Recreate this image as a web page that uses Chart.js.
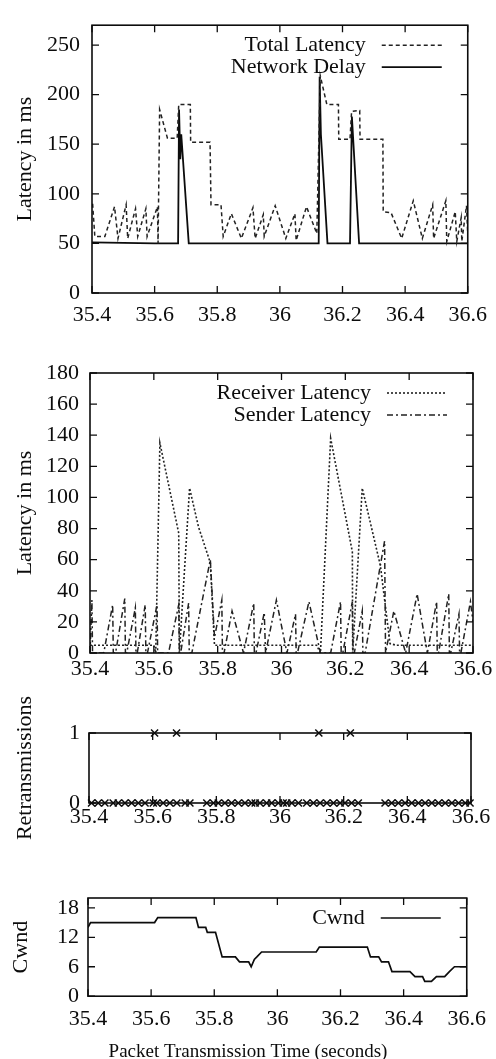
<!DOCTYPE html>
<html>
<head>
<meta charset="utf-8">
<script src="https://cdn.jsdelivr.net/npm/chart.js@4"></script>
<style>
html, body { margin: 0; padding: 0; background: #fff; overflow: hidden; }
body { width: 496px; height: 1059px; position: relative; }
canvas { position: absolute; left: 0; }
</style>
</head>
<body>
<canvas id="g1" width="496" height="330" style="top:0px"></canvas>
<canvas id="g2" width="496" height="360" style="top:330px"></canvas>
<canvas id="g3" width="496" height="170" style="top:690px"></canvas>
<canvas id="g4" width="496" height="203" style="top:860px"></canvas>
<script>
// eixo x comum
const ticksX = [35.4, 35.6, 35.8, 36, 36.2, 36.4, 36.6];

// grafico 1 - latencia total e atraso da rede
const totalX = [35.402, 35.409, 35.441, 35.472, 35.483, 35.509, 35.514, 35.539, 35.546, 35.572,
  35.576, 35.609, 35.611, 35.616, 35.641, 35.672, 35.677, 35.714, 35.715, 35.777,
  35.780, 35.812, 35.819, 35.845, 35.877, 35.914, 35.921, 35.947, 35.950, 35.985,
  36.019, 36.048, 36.052, 36.085, 36.118, 36.129, 36.150, 36.187, 36.188, 36.224,
  36.229, 36.255, 36.256, 36.329, 36.330, 36.355, 36.389, 36.426, 36.455, 36.488,
  36.491, 36.530, 36.533, 36.560, 36.565, 36.579, 36.581, 36.596, 36.600];
const totalY = [90, 57, 57, 87, 55, 89, 55, 85, 57, 85,
  57, 87, 50, 185, 156, 156, 190, 190, 152, 152,
  89, 89, 57, 80, 55, 86, 55, 79, 57, 88,
  55, 80, 53, 87, 60, 219, 190, 190, 155, 155,
  183, 184, 155, 155, 82, 81, 55, 93, 55, 89,
  55, 93, 52, 82, 52, 76, 52, 88, 60];
const redeX = [35.400, 35.600, 35.675, 35.678, 35.682, 35.685, 35.709, 36.124, 36.127, 36.131,
  36.152, 36.224, 36.230, 36.253, 36.600];
const redeY = [51, 50, 50, 185, 135, 160, 50, 50, 218, 160,
  50, 50, 178, 50, 50];
const ticksY1 = [0, 50, 100, 150, 200, 250];

// grafico 2 - latencia do receptor e do emissor
const recX = [35.400, 35.600, 35.606, 35.619, 35.678, 35.680, 35.712, 35.740, 35.777, 35.790,
  36.110, 36.122, 36.154, 36.222, 36.223, 36.253, 36.310, 36.340, 36.360, 36.600];
const recY = [5, 5, 0, 135, 77, 0, 106, 81, 58, 5,
  5, 0, 138, 65, 0, 106, 56, 6, 5, 5];
const emiX = [35.400, 35.406, 35.408, 35.443, 35.471, 35.473, 35.480, 35.509, 35.511, 35.515,
  35.542, 35.544, 35.548, 35.573, 35.575, 35.580, 35.610, 35.612, 35.646, 35.678,
  35.680, 35.684, 35.709, 35.711, 35.719, 35.777, 35.790, 35.813, 35.815, 35.820,
  35.845, 35.881, 35.913, 35.915, 35.920, 35.946, 35.950, 35.984, 36.017, 36.044,
  36.046, 36.050, 36.086, 36.122, 36.154, 36.185, 36.187, 36.192, 36.222, 36.224,
  36.228, 36.253, 36.255, 36.262, 36.323, 36.326, 36.352, 36.389, 36.425, 36.457,
  36.486, 36.488, 36.492, 36.524, 36.526, 36.530, 36.556, 36.558, 36.562, 36.592, 36.600];
const emiY = [0, 34, 0, 0, 31, 0, 0, 35, 0, 0,
  29, 0, 0, 31, 0, 0, 31, 0, 0, 31,
  0, 0, 32, 0, 0, 60, 10, 34, 0, 0,
  27, 0, 32, 0, 0, 26, 0, 34, 0, 25,
  0, 0, 33, 0, 0, 33, 0, 0, 33, 0,
  0, 27, 0, 0, 72, 0, 27, 0, 38, 0,
  33, 0, 0, 38, 0, 0, 25, 0, 0, 33, 20];
const ticksY2 = [0, 20, 40, 60, 80, 100, 120, 140, 160, 180];

// grafico 3 - retransmissoes
const retX = [35.408, 35.429, 35.450, 35.476, 35.492, 35.513, 35.534, 35.555, 35.576, 35.602,
  35.606, 35.613, 35.633, 35.654, 35.675, 35.676, 35.702, 35.717, 35.770, 35.791,
  35.806, 35.827, 35.848, 35.869, 35.890, 35.911, 35.922, 35.937, 35.958, 35.974,
  35.995, 36.010, 36.021, 36.037, 36.058, 36.084, 36.105, 36.122, 36.126, 36.147,
  36.168, 36.189, 36.204, 36.221, 36.225, 36.246, 36.330, 36.351, 36.372, 36.393,
  36.414, 36.435, 36.456, 36.477, 36.498, 36.519, 36.540, 36.561, 36.582, 36.597];
const retY = [0, 0, 0, 0, 0, 0, 0, 0, 0, 0,
  1, 0, 0, 0, 1, 0, 0, 0, 0, 0,
  0, 0, 0, 0, 0, 0, 0, 0, 0, 0,
  0, 0, 0, 0, 0, 0, 0, 1, 0, 0,
  0, 0, 0, 1, 0, 0, 0, 0, 0, 0,
  0, 0, 0, 0, 0, 0, 0, 0, 0, 0];
const ticksY3 = [0, 1];

// grafico 4 - janela de congestionamento
const cwndX = [35.400, 35.408, 35.611, 35.621, 35.742, 35.750, 35.773, 35.778, 35.804, 35.825,
  35.867, 35.880, 35.909, 35.917, 35.927, 35.935, 35.950, 36.123, 36.133, 36.285,
  36.295, 36.321, 36.330, 36.352, 36.363, 36.420, 36.436, 36.460, 36.467, 36.488,
  36.504, 36.530, 36.545, 36.561, 36.600];
const cwndY = [14, 15, 15, 16, 16, 14, 14, 13, 13, 8,
  8, 7, 7, 6, 7.5, 8, 9, 9, 10, 10,
  8, 8, 7, 7, 5, 5, 4, 4, 3, 3,
  4, 4, 5, 6, 6];
const ticksY4 = [0, 6, 12, 18];

const FONTE = "'Liberation Serif', 'Times New Roman', serif";
const TINTA = '#0c0c0c';

function pontos(xs, ys) {
  return xs.map((x, i) => ({ x: x, y: ys[i] }));
}

function fmtX(v) {
  return String(Math.round(v * 10) / 10);
}

// moldura e tiques para dentro (estilo gnuplot)
const moldura = {
  id: 'moldura',
  afterDatasetsDraw(chart) {
    const { ctx, chartArea: a } = chart;
    const sx = chart.scales.x, sy = chart.scales.y;
    ctx.save();
    ctx.strokeStyle = TINTA;
    ctx.lineWidth = 1.6;
    ctx.strokeRect(a.left, a.top, a.right - a.left, a.bottom - a.top);
    ctx.lineWidth = 1.3;
    ctx.beginPath();
    sx.ticks.forEach(t => {
      const p = sx.getPixelForValue(t.value);
      ctx.moveTo(p, a.bottom); ctx.lineTo(p, a.bottom - 7);
      ctx.moveTo(p, a.top); ctx.lineTo(p, a.top + 7);
    });
    sy.ticks.forEach(t => {
      const p = sy.getPixelForValue(t.value);
      ctx.moveTo(a.left, p); ctx.lineTo(a.left + 7, p);
      ctx.moveTo(a.right, p); ctx.lineTo(a.right - 7, p);
    });
    ctx.stroke();
    ctx.restore();
  }
};

// legenda: texto alinhado a direita e amostra da linha
const legenda = {
  id: 'legenda',
  afterDraw(chart) {
    const { ctx, chartArea: a } = chart;
    ctx.save();
    ctx.font = '22px ' + FONTE;
    ctx.textAlign = 'right';
    ctx.textBaseline = 'middle';
    ctx.fillStyle = TINTA;
    chart.data.datasets.forEach((ds, i) => {
      const y = a.top + 20 + i * 22;
      ctx.fillText(ds.label, a.right - 102, y);
      ctx.strokeStyle = ds.borderColor;
      ctx.lineWidth = ds.borderWidth;
      ctx.setLineDash(ds.borderDash || []);
      ctx.beginPath();
      ctx.moveTo(a.right - 86, y);
      ctx.lineTo(a.right - 26, y);
      ctx.stroke();
    });
    ctx.restore();
  }
};

function montar(id, cfg) {
  const fonteTick = { family: FONTE, size: 22 };
  const escalas = {
    x: {
      type: 'linear', min: 35.4, max: 36.6,
      afterBuildTicks: s => { s.ticks = ticksX.map(v => ({ value: v })); },
      afterFit: s => { s.height = cfg.xH; },
      grid: { display: false, drawTicks: false },
      border: { display: false },
      ticks: { padding: cfg.xPad, color: TINTA, font: fonteTick, maxRotation: 0, autoSkip: false,
        callback: v => fmtX(v) }
    },
    y: {
      type: 'linear', min: 0, max: cfg.yMax,
      afterBuildTicks: s => { s.ticks = cfg.yTicks.map(v => ({ value: v })); },
      afterFit: s => { s.width = cfg.left; },
      grid: { display: false, drawTicks: false },
      border: { display: false },
      ticks: { padding: cfg.yPad, color: TINTA, font: fonteTick, autoSkip: false },
      title: { display: true, text: cfg.yTitle, color: TINTA, font: { family: FONTE, size: 22 },
        padding: { top: cfg.titlePad, bottom: 0 } }
    }
  };
  // margem direita como eixo vazio, para o titulo de baixo ficar centrado no canvas
  if (cfg.margemDir) {
    escalas.yd = {
      position: 'right', min: 0, max: cfg.yMax,
      afterFit: s => { s.width = cfg.margemDir; },
      grid: { display: false, drawTicks: false },
      border: { display: false },
      ticks: { display: false }
    };
  }
  return new Chart(document.getElementById(id), {
    type: 'line',
    data: { datasets: cfg.datasets },
    options: {
      responsive: false,
      animation: false,
      devicePixelRatio: 1,
      layout: { padding: { top: cfg.top, right: cfg.right, left: 0, bottom: 0 } },
      elements: { point: { radius: 0 }, line: { tension: 0 } },
      plugins: {
        legend: { display: false },
        tooltip: { enabled: false },
        title: cfg.title || { display: false }
      },
      scales: escalas
    },
    plugins: cfg.plugins
  });
}

montar('g1', {
  top: 10, right: 23, left: 92, xH: 37, xPad: 9, yPad: 12, titlePad: 12,
  yMax: 270, yTicks: ticksY1, yTitle: 'Latency in ms',
  plugins: [moldura, legenda],
  datasets: [
    { label: 'Total Latency', data: pontos(totalX, totalY), borderColor: '#222', borderWidth: 1.5, borderDash: [4, 3] },
    { label: 'Network Delay', data: pontos(redeX, redeY), borderColor: '#0c0c0c', borderWidth: 1.8 }
  ]
});

montar('g2', {
  top: 43, right: 23, left: 90, xH: 37, xPad: 3, yPad: 11, titlePad: 12,
  yMax: 180, yTicks: ticksY2, yTitle: 'Latency in ms',
  plugins: [moldura, legenda],
  datasets: [
    { label: 'Receiver Latency', data: pontos(recX, recY), borderColor: '#222', borderWidth: 1.6, borderDash: [2, 2] },
    { label: 'Sender Latency', data: pontos(emiX, emiY), borderColor: '#222', borderWidth: 1.5, borderDash: [6, 3, 2, 3] }
  ]
});

montar('g3', {
  top: 43, right: 25, left: 89, xH: 57, xPad: 1, yPad: 9, titlePad: 12,
  yMax: 1, yTicks: ticksY3, yTitle: 'Retransmissions',
  plugins: [moldura],
  datasets: [
    { label: 'Retransmissions', data: pontos(retX, retY), showLine: false, clip: false,
      pointStyle: 'crossRot', pointRadius: 5, borderColor: '#0c0c0c', borderWidth: 1.5 }
  ]
});

montar('g4', {
  top: 38, right: 0, margemDir: 25, left: 88, xH: 44, xPad: 10, yPad: 9, titlePad: 8,
  yMax: 20, yTicks: ticksY4, yTitle: 'Cwnd',
  plugins: [moldura, legenda],
  title: { display: true, position: 'bottom', text: 'Packet Transmission Time (seconds)', color: TINTA,
    font: { family: FONTE, size: 19, weight: 'normal' }, padding: { top: 0, bottom: 0 } },
  datasets: [
    { label: 'Cwnd', data: pontos(cwndX, cwndY), borderColor: '#0c0c0c', borderWidth: 1.7 }
  ]
});
</script>
</body>
</html>
